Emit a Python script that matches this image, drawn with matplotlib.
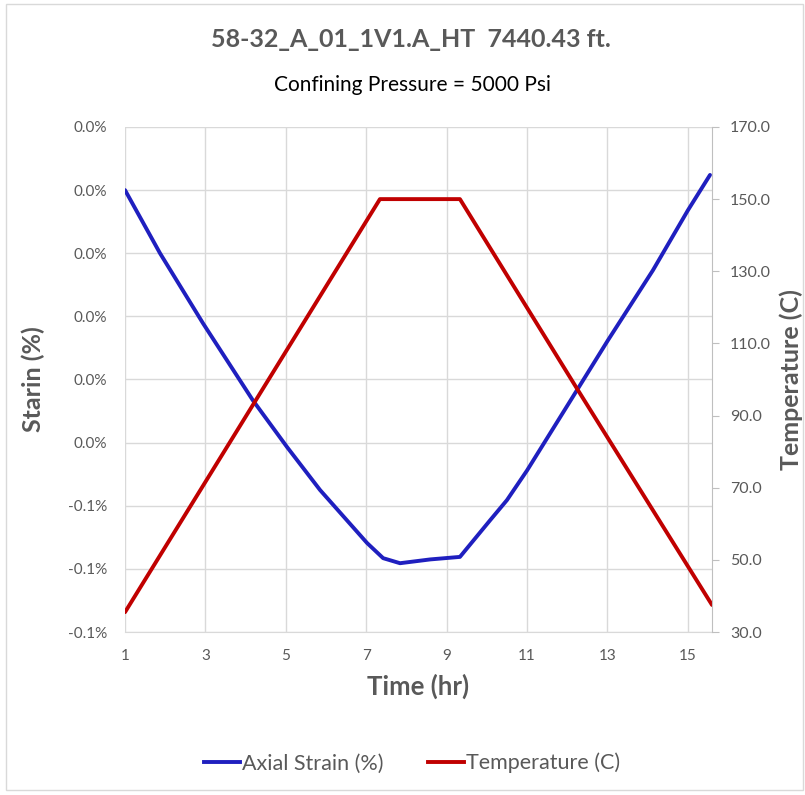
import numpy as np
import matplotlib.pyplot as plt
from matplotlib.patches import Rectangle

# axial strain (%)
strain_t = [1.0, 1.87, 2.94, 4.18, 5.03, 5.85, 7.02, 7.42, 7.84, 8.59, 9.33,
            10.08, 10.5, 11.0, 12.24, 13.01, 14.13, 15.0, 15.55]
strain = [0.0, -0.0100, -0.0211, -0.0333, -0.0407, -0.0475, -0.0559, -0.0583,
          -0.0591, -0.0585, -0.0581, -0.0523, -0.0491, -0.0444, -0.0317,
          -0.0238, -0.0127, -0.0032, 0.0024]

# temperature (C)
temp_t = [1.0, 7.34, 9.33, 12.24, 15.6]
temp = [35.5, 150.0, 150.0, 97.5, 37.5]

x_ticks = [1, 3, 5, 7, 9, 11, 13, 15]
strain_ticks = [0.01, 0.0, -0.01, -0.02, -0.03, -0.04, -0.05, -0.06, -0.07]
strain_labels = ['0.0%', '0.0%', '0.0%', '0.0%', '0.0%', '0.0%', '-0.1%', '-0.1%', '-0.1%']
temp_ticks = [30, 50, 70, 90, 110, 130, 150, 170]

grey = '#595959'
plt.rcParams['font.family'] = ['Lato', 'DejaVu Sans']

fig = plt.figure(figsize=(8.05, 7.95), dpi=100)
fig.patches.append(Rectangle((0.007, 0.006), 0.99, 0.989, transform=fig.transFigure,
                             fill=False, edgecolor='#d9d9d9', lw=1))
ax = fig.add_axes([0.1553, 0.2050, 0.7292, 0.6353])
ax2 = ax.twinx()

ax.plot(strain_t, strain, color='#1f1fbf', lw=2.8, solid_capstyle='round')
ax2.plot(temp_t, temp, color='#c00000', lw=2.8, solid_capstyle='round')

ax.set_xlim(1, 15.6)
ax.set_ylim(-0.07, 0.01)
ax2.set_ylim(30, 170)
ax.set_xticks(x_ticks)
ax.set_yticks(strain_ticks)
ax.set_yticklabels(strain_labels)
ax2.set_yticks(temp_ticks)
ax2.set_yticklabels(['%.1f' % v for v in temp_ticks])

ax.grid(True, color='#d9d9d9', lw=1)
ax.set_axisbelow(True)
for s in ['left', 'top', 'right']:
    ax.spines[s].set_visible(False)
ax.spines['bottom'].set_color('#d9d9d9')
for s in ['left', 'top', 'bottom']:
    ax2.spines[s].set_visible(False)
ax2.spines['right'].set_color('#bfbfbf')

ax.tick_params(axis='both', length=0, labelsize=11, labelcolor=grey)
ax.tick_params(axis='y', pad=13)
ax.tick_params(axis='x', pad=12)
ax2.tick_params(axis='y', length=5, color='#bfbfbf', labelsize=11.5, labelcolor=grey, pad=8)

ax.set_xlabel('Time (hr)', fontsize=18.5, fontweight='bold', color=grey, labelpad=8)
ax.set_ylabel('Starin (%)', fontsize=18, fontweight='bold', color=grey, labelpad=16)
ax2.set_ylabel('Temperature (C)', fontsize=18, fontweight='bold', color=grey, labelpad=6)

fig.text(0.511, 0.950, '58-32_A_01_1V1.A_HT  7440.43 ft.', ha='center', va='center',
         fontsize=18, fontweight='bold', color=grey)
fig.text(0.512, 0.893, 'Confining Pressure = 5000 Psi', ha='center', va='center',
         fontsize=15, color='black')

h1, = ax.plot([], [], color='#1f1fbf', lw=2.8)
h2, = ax.plot([], [], color='#c00000', lw=2.8)
fig.legend([h1, h2], ['Axial Strain (%)', 'Temperature (C)'], loc='center',
           bbox_to_anchor=(0.512, 0.040), ncol=2, frameon=False, fontsize=15.5,
           handlelength=1.65, handletextpad=0.1, columnspacing=2.1,
           labelcolor=grey)

fig.savefig('out.png', dpi=100)
